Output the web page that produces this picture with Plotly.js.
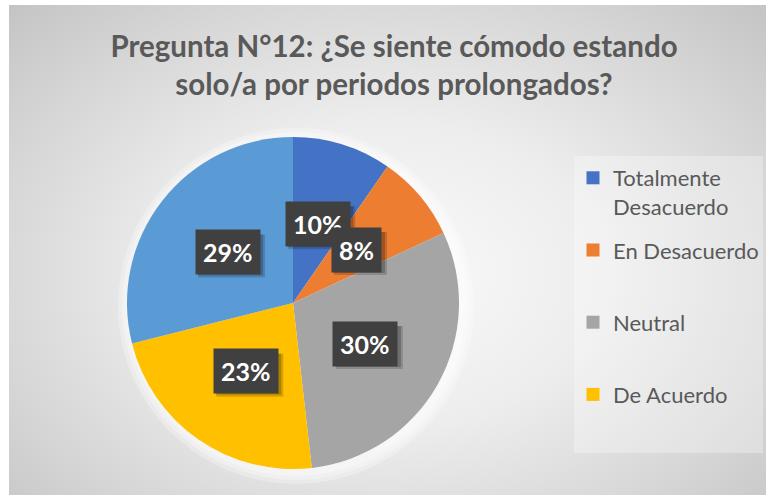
<!DOCTYPE html>
<html>
<head>
<meta charset="utf-8">
<script src="https://cdn.plot.ly/plotly-3.0.1.min.js"></script>
<style>
  html, body { margin: 0; padding: 0; background: #ffffff; }
  #wrap { position: relative; width: 766px; height: 495px; overflow: hidden; }
  #bg { position: absolute; left: 9px; top: 5px; right: 0; bottom: 0;
        background: radial-gradient(ellipse at 50% 55%, #fafafa 0%, #ededed 40%, #d6d6d6 75%, #c4c4c4 100%); }
  #chart { position: absolute; left: 0; top: 0; width: 766px; height: 495px; }
</style>
</head>
<body>
<div id="wrap"><div id="bg"></div><div id="chart"></div></div>
<script>
// ---- data ----
const categories = ["Totalmente<br>Desacuerdo", "En Desacuerdo", "Neutral", "De Acuerdo", "Totalmente De Acuerdo"];
const counts = [8, 7, 25, 19, 24];
const colors = ["#4472C4", "#ED7D31", "#A5A5A5", "#FFC000", "#5B9BD5"];
const titleText = "Pregunta N°12: ¿Se siente cómodo estando<br>solo/a por periodos prolongados?";
const legendCount = 4; // the reference legend shows only the first four categories

// ---- layout geometry (pixels) ----
const W = 766, H = 495;
const cx = 293, cy = 303, R = 166;
const labelRadius = 0.5;

const total = counts.reduce((a, b) => a + b, 0);

const pie = {
  type: "pie",
  labels: categories,
  values: counts,
  sort: false,
  direction: "clockwise",
  rotation: 0,
  marker: { colors: colors, line: { width: 0 } },
  textinfo: "none",
  hoverinfo: "label+percent",
  showlegend: false,
  domain: { x: [(cx - R) / W, (cx + R) / W], y: [(H - cy - R) / H, (H - cy + R) / H] }
};

// legend entries (no data points, legend only)
const legendTraces = categories.slice(0, legendCount).map((c, i) => ({
  type: "scatter", mode: "markers", x: [null], y: [null],
  name: c.includes("<br>") ? c : c + "<br> ",
  legendgroup: "g" + i,
  marker: { symbol: "square", size: 13, color: colors[i] },
  hoverinfo: "skip"
}));

const shapes = [];
// soft white glow behind the pie
[12, 8, 4].forEach(d => {
  const r = R + d;
  shapes.push({
    type: "circle", xref: "paper", yref: "paper", layer: "below",
    x0: (cx + 3 - r) / W, x1: (cx + 3 + r) / W,
    y0: (H - cy - 3 - r) / H, y1: (H - cy - 3 + r) / H,
    fillcolor: "rgba(255,255,255,0.28)", line: { width: 0 }
  });
});
// legend panel
shapes.push({
  type: "rect", xref: "paper", yref: "paper", layer: "below",
  x0: 574 / W, x1: 763 / W, y0: (H - 453) / H, y1: (H - 156) / H,
  fillcolor: "rgba(255,255,255,0.3)", line: { width: 0 }
});

// data labels: boxes at mid-angle of each slice
const annotations = [];
let cum = 0;
counts.forEach((v, i) => {
  const th = 2 * Math.PI * (cum + v / 2) / total;
  cum += v;
  const px = cx + labelRadius * R * Math.sin(th);
  const py = cy - labelRadius * R * Math.cos(th);
  const txt = Math.round(v / total * 100) + "%";
  const hw = (23 + 14 * txt.length) / 2, hh = 20.5;
  // drop shadow of the label box
  [[4, 0.16, 1], [3, 0.2, 0]].forEach(([off, a, grow]) => {
    shapes.push({
      type: "rect", xref: "paper", yref: "paper", layer: "above",
      xsizemode: "pixel", ysizemode: "pixel",
      xanchor: px / W, yanchor: (H - py) / H,
      x0: -hw + off - grow, x1: hw + off + grow, y0: -hh - off - grow, y1: hh - off + grow,
      fillcolor: "rgba(0,0,0," + a + ")", line: { width: 0 }
    });
  });
  annotations.push({
    xref: "paper", yref: "paper", x: px / W, y: (H - py) / H,
    xanchor: "center", yanchor: "middle", showarrow: false, text: txt,
    borderpad: 7, bgcolor: "#404040",
    font: { family: "Lato", size: 25, color: "#ffffff", weight: 700 }
  });
});

const layout = {
  width: W, height: H,
  margin: { l: 0, r: 0, t: 0, b: 0 },
  paper_bgcolor: "rgba(0,0,0,0)",
  plot_bgcolor: "rgba(0,0,0,0)",
  xaxis: { visible: false, fixedrange: true },
  yaxis: { visible: false, fixedrange: true },
  title: {
    text: titleText,
    font: { family: "Lato", size: 29.5, color: "#595959", weight: 700 },
    x: 394 / W, xanchor: "center", y: 1 - 57 / H, yanchor: "top"
  },
  showlegend: true,
  legend: {
    x: 573 / W, xanchor: "left", y: 1 - 157 / H, yanchor: "top",
    bgcolor: "rgba(0,0,0,0)", valign: "top",
    font: { family: "Lato", size: 22, color: "#595959" },
    traceorder: "grouped", tracegroupgap: 12
  },
  shapes: shapes,
  annotations: annotations
};

Plotly.newPlot("chart", [pie].concat(legendTraces), layout, { displayModeBar: false, staticPlot: true });
</script>
</body>
</html>
